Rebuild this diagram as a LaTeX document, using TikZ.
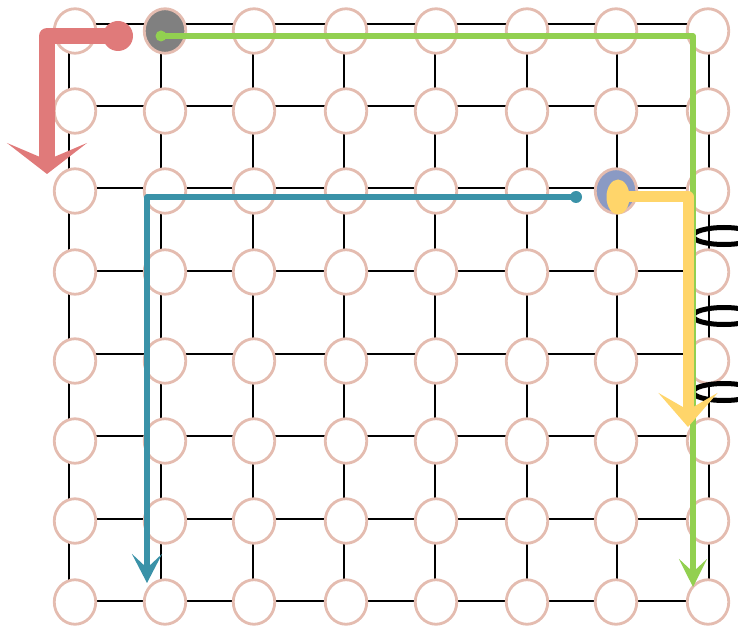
\documentclass[tikz,border=0pt]{standalone}
\usetikzlibrary{arrows.meta,shapes.geometric}
\definecolor{ring}{RGB}{228,188,176}
\definecolor{midgray}{RGB}{128,128,128}
\definecolor{bluegray}{RGB}{138,154,196}
\definecolor{redpath}{RGB}{224,122,122}
\definecolor{greenpath}{RGB}{146,208,80}
\definecolor{tealpath}{RGB}{58,146,168}
\definecolor{yellowpath}{RGB}{255,213,106}
\begin{document}
\begin{tikzpicture}[x=1pt,y=-1pt,
  gridline/.style={black,line width=2.6pt},
  ringnode/.style={ellipse,draw=ring,fill=white,line width=2.8pt,minimum width=41.5pt,minimum height=44.5pt,inner sep=0pt},
  fill-2-1/.style={fill=midgray},
  fill-7-3/.style={fill=bluegray},
  loopmark/.style={ellipse,draw=black,line width=5pt,minimum width=62pt,minimum height=17pt,inner sep=0pt},
  redline/.style={draw=redpath,line width=16pt,line join=round,-{Stealth[length=31pt,width=80pt,inset=17pt]}},
  greenline/.style={draw=greenpath,line width=5.5pt,line join=round,-{Stealth[length=28pt,width=28pt,inset=13pt]}},
  tealline/.style={draw=tealpath,line width=5.5pt,line join=round,-{Stealth[length=29pt,width=30pt,inset=14pt]}},
  yellowline/.style={draw=yellowpath,line width=11pt,line join=round,-{Stealth[length=34pt,width=59pt,inset=17pt]}},
  dotnode/.style={circle,inner sep=0pt,draw=none}
]
\useasboundingbox (0,0) rectangle (738,628);
\clip (0,0) rectangle (738,628);
% grid points
\foreach \x [count=\i] in {69,161,253,344,435,527,617,709}{
  \foreach \y [count=\j] in {24,106,188,271,354,436,519,601}{
    \coordinate (g-\i-\j) at (\x,\y);
  }
}
\foreach \k in {1,...,8}{
  \draw[gridline] (g-\k-1) -- (g-\k-8);
  \draw[gridline] (g-1-\k) -- (g-8-\k);
}
% circles
\foreach \y [count=\j] in {31,111,191,272,361,441,521,602}{
  \foreach \x [count=\i] in {75,165,254,346,436,527,616,708}{
    \node[ringnode,fill-\i-\j/.try] (c-\i-\j) at (\x,\y) {};
  }
}
% loop marks
\node[loopmark] (m1) at (724,236) {};
\node[loopmark] (m2) at (724,316) {};
\node[loopmark] (m3) at (724,392) {};
% red path
\node[dotnode,fill=redpath,minimum size=30pt] (rdot) at (118,36) {};
\coordinate (rend) at (47,174);
\draw[redline] (rdot.center) -| (rend);
% green path
\node[dotnode,fill=greenpath,minimum size=11pt] (gdot) at (161,36) {};
\coordinate (gend) at (693,587);
\draw[greenline] (gdot.center) -| (gend);
% teal path
\node[dotnode,fill=tealpath,minimum size=12pt] (tdot) at (576,197) {};
\coordinate (tend) at (147,583);
\draw[tealline] (tdot.center) -| (tend);
% yellow path
\node[ellipse,inner sep=0pt,fill=yellowpath,minimum width=23pt,minimum height=35pt] (ydot) at (618,197) {};
\coordinate (yend) at (688,427);
\draw[yellowline] (ydot.center) -| (yend);
\end{tikzpicture}
\end{document}
